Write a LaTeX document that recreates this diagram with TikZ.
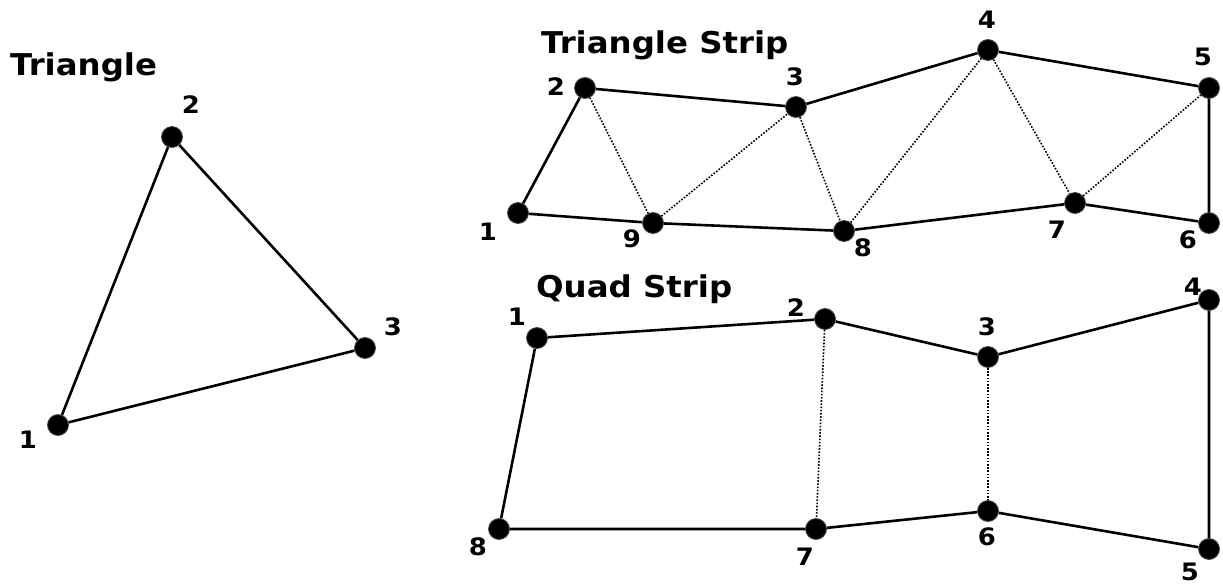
\documentclass[tikz,border=0pt]{standalone}
\usepackage{fontspec}
\setmainfont{DejaVu Sans}[FakeStretch=1.08]
\begin{document}
\begin{tikzpicture}[x=1pt,y=-1pt,
  vtx/.style={circle,fill=black,draw=black!70,line width=0.8pt,minimum size=21pt,inner sep=0pt},
  lbl/.style={inner sep=0pt,font=\fontsize{24}{24}\selectfont\bfseries},
  ttl/.style={inner sep=0pt,anchor=base west,font=\fontsize{30}{30}\selectfont\bfseries},
  edge/.style={line width=2.6pt},
  diag/.style={line width=1.6pt,dash pattern=on 1.6pt off 1.6pt}]
\useasboundingbox (0,0) rectangle (1223,586);

% ---- Triangle ----
\node[ttl] (tT) at (10,76) {Triangle};
\node[vtx] (t1) at (58,425) {};
\node[vtx] (t2) at (172,137) {};
\node[vtx] (t3) at (365,348) {};
\draw[edge] (t1) -- (t2) -- (t3) -- (t1);
\node[lbl] (lt1) at (28,440) {1};
\node[lbl] (lt2) at (191,105) {2};
\node[lbl] (lt3) at (393,327) {3};

% ---- Triangle strip ----
\node[ttl] (sT) at (541,53) {Triangle Strip};
\node[vtx] (s1) at (518,213) {};
\node[vtx] (s2) at (585,88) {};
\node[vtx] (s3) at (796,107) {};
\node[vtx] (s4) at (988,50) {};
\node[vtx] (s5) at (1209,88) {};
\node[vtx] (s6) at (1209,223) {};
\node[vtx] (s7) at (1075,203) {};
\node[vtx] (s8) at (844,231) {};
\node[vtx] (s9) at (653,223) {};
\draw[edge] (s1) -- (s2) -- (s3) -- (s4) -- (s5) -- (s6) -- (s7) -- (s8) -- (s9) -- (s1);
\draw[diag] (s2) -- (s9) -- (s3) -- (s8) -- (s4) -- (s7) -- (s5);
\node[lbl] (ls1) at (488,232) {1};
\node[lbl] (ls2) at (556,87) {2};
\node[lbl] (ls3) at (795,77) {3};
\node[lbl] (ls4) at (987,20) {4};
\node[lbl] (ls5) at (1203,57) {5};
\node[lbl] (ls6) at (1188,240) {6};
\node[lbl] (ls7) at (1057,230) {7};
\node[lbl] (ls8) at (863,248) {8};
\node[lbl] (ls9) at (632,239) {9};

% ---- Quad strip ----
\node[ttl] (qT) at (536,297) {Quad Strip};
\node[vtx] (q1) at (537,338) {};
\node[vtx] (q2) at (825,319) {};
\node[vtx] (q3) at (988,357) {};
\node[vtx] (q4) at (1209,300) {};
\node[vtx] (q5) at (1209,549) {};
\node[vtx] (q6) at (988,511) {};
\node[vtx] (q7) at (816,529) {};
\node[vtx] (q8) at (499,529) {};
\draw[edge] (q1) -- (q2) -- (q3) -- (q4) -- (q5) -- (q6) -- (q7) -- (q8) -- (q1);
\draw[diag] (q2) -- (q7);
\draw[diag] (q3) -- (q6);
\node[lbl] (lq1) at (517,317) {1};
\node[lbl] (lq2) at (796,308) {2};
\node[lbl] (lq3) at (987,327) {3};
\node[lbl] (lq4) at (1193,287) {4};
\node[lbl] (lq5) at (1190,572) {5};
\node[lbl] (lq6) at (987,537) {6};
\node[lbl] (lq7) at (805,557) {7};
\node[lbl] (lq8) at (478,547) {8};
\end{tikzpicture}
\end{document}
